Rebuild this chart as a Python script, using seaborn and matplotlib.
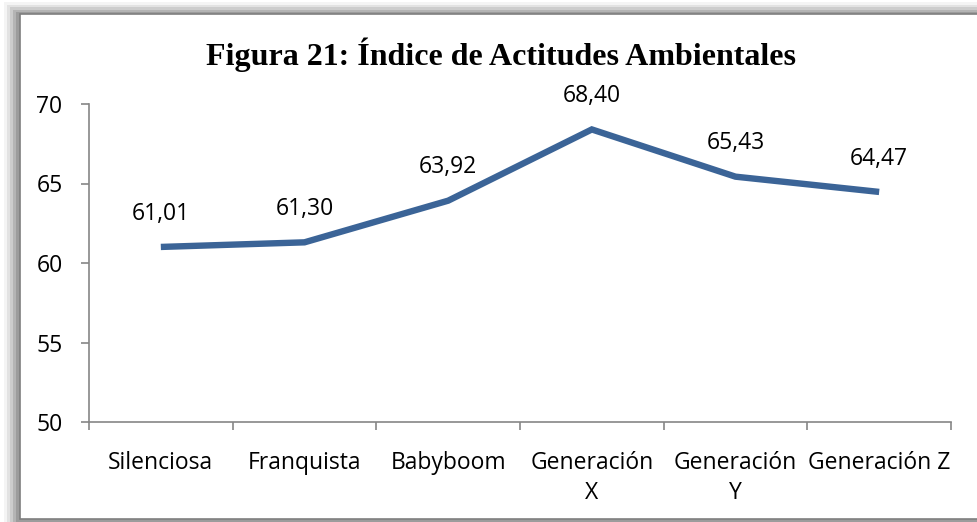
import matplotlib
matplotlib.use('Agg')
import matplotlib.pyplot as plt
import seaborn as sns
import pandas as pd
from matplotlib.patches import Rectangle
from matplotlib.ticker import FixedLocator, NullFormatter

# datos del gráfico
generaciones = ['Silenciosa', 'Franquista', 'Babyboom', 'Generación\nX', 'Generación\nY', 'Generación Z']
indice = [61.01, 61.30, 63.92, 68.40, 65.43, 64.47]
etiquetas = ['61,01', '61,30', '63,92', '68,40', '65,43', '64,47']
y_ticks = [50, 55, 60, 65, 70]

sns.set_theme(style='white')
plt.rcParams['font.family'] = ['Open Sans', 'DejaVu Sans']

W, H = 977, 522
fig = plt.figure(figsize=(W / 100, H / 100), dpi=100)

def px(x, y, w, h):
    # caja en pixeles (origen arriba-izquierda) -> fracciones de figura
    return (x / W, 1 - (y + h) / H), w / W, h / H

# sombra del marco
for i, c in enumerate(['#f4f4f4', '#e2e2e2', '#cccccc', '#b4b4b4', '#9c9c9c']):
    (x0, y0), w, h = px(4 + i * 3, 2 + i * 2.5, 980, 530)
    fig.add_artist(Rectangle((x0, y0), w, h, transform=fig.transFigure,
                             facecolor=c, edgecolor='none', zorder=0))
(x0, y0), w, h = px(20, 14, 970, 505)
fig.add_artist(Rectangle((x0, y0), w, h, transform=fig.transFigure,
                         facecolor='white', edgecolor='#7f7f7f', linewidth=1.2, zorder=0))

ax = fig.add_axes([89 / W, 1 - 422 / H, (951 - 89) / W, (422 - 104) / H])
ax.set_facecolor('none')

df = pd.DataFrame({'Generacion': range(len(generaciones)), 'Indice': indice})
sns.lineplot(data=df, x='Generacion', y='Indice', ax=ax, color='#3b6497',
             linewidth=4.6, solid_joinstyle='miter', solid_capstyle='butt')

for i, (v, t) in enumerate(zip(indice, etiquetas)):
    ax.annotate(t, (i, v), xytext=(0, 24), textcoords='offset points',
                ha='center', va='center', fontsize=16.5, color='black')

ax.set_xlim(-0.5, len(generaciones) - 0.5)
ax.set_ylim(50, 70)
ax.set_yticks(y_ticks)
ax.set_yticklabels([str(v) for v in y_ticks])
ax.xaxis.set_major_locator(FixedLocator([i - 0.5 for i in range(len(generaciones) + 1)]))
ax.xaxis.set_major_formatter(NullFormatter())
ax.set_xticks(range(len(generaciones)), minor=True)
ax.set_xticklabels(generaciones, minor=True, fontsize=16.5, color='black', linespacing=1.35, va='top')
ax.tick_params(axis='x', which='major', direction='out', length=6, width=1.2, color='#868686', bottom=True)
ax.tick_params(axis='x', which='minor', length=0, pad=21)
ax.tick_params(axis='y', direction='out', length=6, width=1.2, color='#868686', left=True,
               pad=13, labelsize=16.5, labelcolor='black')
for s in ['top', 'right']:
    ax.spines[s].set_visible(False)
for s in ['left', 'bottom']:
    ax.spines[s].set_color('#868686')
    ax.spines[s].set_linewidth(1.2)
ax.set_xlabel('')
ax.set_ylabel('')

fig.text(501 / W, 1 - 55 / H, 'Figura 21: Índice de Actitudes Ambientales',
         ha='center', va='center', fontsize=23, fontweight='bold', color='black',
         family=['Liberation Serif', 'DejaVu Serif'])

fig.savefig('out.png', dpi=100)
